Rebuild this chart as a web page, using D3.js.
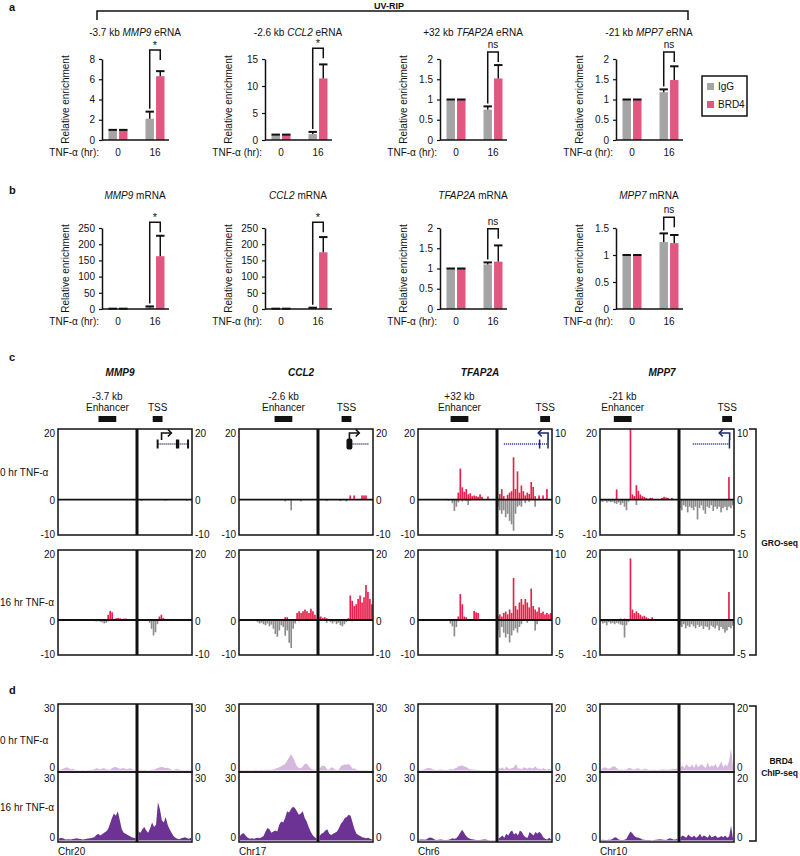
<!DOCTYPE html>
<html><head><meta charset="utf-8">
<script src="https://cdn.jsdelivr.net/npm/d3@7"></script>
<style>
body{margin:0;background:#fff}
svg{display:block}
text{font-family:"Liberation Sans",Arial,Helvetica,sans-serif;fill:#111}
</style>
</head><body>
<svg id="fig" width="800" height="856"></svg>
<script>
// ---------------- DATA ----------------
const timepoints = ['0','16'];
const series = ['IgG','BRD4'];
const genes = ['MMP9','CCL2','TFAP2A','MPP7'];

// panel a : UV-RIP eRNA
const eRNA_prefix = ['-3.7 kb ','-2.6 kb ','+32 kb ','-21 kb '];
const eRNA_IgG        = [[1,2.1],[1,1.1],[1,0.75],[1,1.18]];
const eRNA_IgG_errTop = [[1,2.8],[1,1.5],[1,0.83],[1,1.25]];
const eRNA_BRD4        = [[1,6.3],[1,11.4],[1,1.52],[1,1.48]];
const eRNA_BRD4_errTop = [[1,6.8],[1,14.0],[1,1.85],[1,1.82]];
const eRNA_ticks = [[0,2,4,6,8],[0,5,10,15],[0,0.5,1,1.5,2],[0,0.5,1,1.5,2]];
const eRNA_sig = ['*','*','ns','ns'];
const eRNA_sigLevel = [8.9,17,2.17,2.17];

// panel b : mRNA
const mRNA_IgG        = [[1,5],[1,3],[1,1.1],[1,1.24]];
const mRNA_IgG_errTop = [[1,8],[1,4],[1,1.15],[1,1.40]];
const mRNA_BRD4        = [[1,163],[1,175],[1,1.17],[1,1.22]];
const mRNA_BRD4_errTop = [[1,226],[1,222],[1,1.57],[1,1.37]];
const mRNA_ticks = [[0,50,100,150,200,250],[0,50,100,150,200,250],[0,0.5,1,1.5,2],[0,0.5,1,1.5]];
const mRNA_sig = ['*','*','ns','ns'];
const mRNA_sigLevel = [268,268,1.98,1.70];

// panel c : GRO-seq, [bin, signal]; enhancer window 40 bins, TSS window 28 bins
const groLeftDomain = [-10,20];
const groRightMin = [-10,-10,-5,-5];
const groRightMax = [20,20,10,10];
const enhLabel = ['-3.7 kb','-2.6 kb','+32 kb','-21 kb'];
const enhBoxBins = [[20.5,29.5],[18,27],[16.5,25.5],[7,16]];
const tssBoxBins = [[8,13],[12,17],[22,27],[22,27]];

const gro_MMP9_0h = {
  enhP: [], enhM: [],
  tssP: [], tssM: [[2,-0.3],[14,-0.3],[25,-0.3]]
};
const gro_MMP9_16h = {
  enhP: [[25,1.5],[26,2.6],[27,2.2],[29,0.5],[30,0.6],[31,0.5],[33,0.4],[34,0.4]],
  enhM: [[1,-0.3],[5,-0.2],[10,-0.3],[18,-0.3],[19,-0.4],[20,-0.3],[21,-0.5],[22,-0.7],[23,-1.0],[24,-0.8],[25,-0.4],[36,-0.3]],
  tssP: [[11,1.0],[12,1.5],[13,0.6],[15,0.3],[17,0.3],[19,0.3],[21,0.3],[24,0.3],[26,0.3]],
  tssM: [[0,-0.2],[6,-0.8],[7,-2.5],[8,-4.4],[9,-3.5],[10,-1.2],[13,-0.3],[20,-0.2],[27,-0.3]]
};
const gro_CCL2_0h = {
  enhP: [], enhM: [[23,-0.5],[26,-3.0],[31,-0.5]],
  tssP: [[16,1.2],[18,1.2],[22,1.2],[23,1.2],[24,1.2]],
  tssM: [[4,-0.4],[11,-0.4],[14,-0.5]]
};
const gro_CCL2_16h = {
  enhP: [[23,0.8],[24,0.8],[29,2.0],[30,2.5],[31,2.0],[32,2.5],[33,3.0],[34,2.5],[35,2.0],[36,3.2],[37,2.5],[38,1.5]],
  enhM: [[1,-0.3],[3,-0.3],[5,-0.3],[7,-0.3],[9,-0.6],[10,-1.0],[11,-0.8],[12,-1.2],[13,-1.5],[14,-1.0],[15,-1.8],[16,-1.3],[17,-2.5],[18,-4.0],[19,-4.8],[20,-3.0],[21,-1.5],[22,-2.0],[23,-4.5],[24,-3.0],[25,-6.5],[26,-8.0],[27,-2.5],[28,-1.0],[30,-0.4],[33,-0.3]],
  tssP: [[0,0.8],[1,1.0],[2,0.6],[3,0.8],[4,0.5],[15,0.5],[16,7.0],[17,5.5],[18,4.0],[19,4.5],[20,6.0],[21,7.0],[22,5.0],[23,6.5],[24,10.0],[25,8.0],[26,6.0],[27,4.5]],
  tssM: [[4,-0.8],[6,-0.6],[7,-1.0],[8,-0.5],[9,-1.2],[10,-0.8],[11,-1.5],[12,-1.8],[13,-1.2],[14,-0.6],[17,-0.4]]
};
const gro_TFAP2A_0h = {
  enhP: [[20,2.0],[21,8.8],[22,3.5],[23,2.2],[24,3.0],[25,1.5],[26,1.8],[27,1.0],[28,1.2],[29,1.0],[30,0.8],[31,1.5],[32,0.8],[35,0.9]],
  enhM: [[15,-0.3],[17,-1.0],[18,-3.2],[19,-2.0],[20,-0.8],[22,-0.5],[24,-0.4],[25,-1.5],[26,-0.3]],
  tssP: [[1,0.8],[2,1.5],[3,0.5],[5,0.7],[6,1.0],[7,1.2],[8,6.0],[9,1.5],[10,4.0],[11,1.0],[12,2.0],[13,1.2],[14,0.6],[15,1.0],[16,0.8],[17,2.5],[18,1.8],[19,0.5],[21,0.6],[23,0.6],[25,1.5]],
  tssM: [[0,-1.0],[1,-1.5],[2,-2.0],[3,-1.5],[4,-2.5],[5,-2.0],[6,-3.0],[7,-3.5],[8,-4.4],[9,-2.0],[10,-1.0],[11,-0.8],[12,-1.0],[14,-0.5],[16,-0.3],[19,-1.0]]
};
const gro_TFAP2A_16h = {
  enhP: [[20,1.0],[21,7.4],[22,4.5],[23,1.0],[24,0.8],[28,2.6],[29,2.2],[30,2.0]],
  enhM: [[3,-0.3],[8,-0.3],[13,-0.3],[16,-1.0],[17,-1.8],[18,-4.7],[19,-2.0]],
  tssP: [[0,0.6],[1,0.8],[2,0.5],[3,1.0],[4,1.2],[5,0.8],[6,1.5],[7,1.0],[8,6.0],[9,2.0],[10,1.5],[11,2.5],[12,3.0],[13,2.2],[14,3.0],[15,2.5],[16,1.8],[17,4.5],[18,2.0],[19,1.5],[20,1.2],[21,1.8],[22,1.0],[23,1.2],[24,0.8],[25,1.0],[26,0.8],[27,1.0]],
  tssM: [[0,-1.5],[1,-2.5],[2,-1.0],[3,-1.8],[4,-2.5],[5,-2.0],[6,-3.2],[7,-2.2],[8,-1.5],[9,-1.2],[10,-1.8],[11,-1.0],[12,-0.6],[15,-0.4],[19,-1.5],[20,-0.6]]
};
const gro_MPP7_0h = {
  enhP: [[8,2.9],[15,22],[16,1.5],[17,1.0],[18,4.1],[19,2.5],[20,1.5],[21,1.0],[22,0.8],[23,0.5],[25,0.5],[26,0.5],[31,0.5],[32,0.8],[33,0.6],[34,0.5],[36,0.5]],
  enhM: [[0,-0.5],[1,-0.6],[2,-0.4],[3,-0.8],[4,-0.5],[5,-0.7],[6,-0.6],[7,-1.0],[8,-1.2],[9,-0.8],[10,-1.5],[11,-1.0],[12,-2.0],[13,-3.0],[14,-0.6],[18,-1.5]],
  tssP: [[25,3.2]],
  tssM: [[0,-1.2],[1,-1.5],[2,-0.8],[3,-1.0],[4,-1.8],[5,-1.0],[6,-1.2],[7,-1.5],[8,-1.0],[9,-2.8],[10,-1.2],[11,-0.8],[12,-1.5],[13,-2.0],[14,-1.0],[15,-1.2],[16,-0.8],[17,-1.6],[18,-1.0],[19,-1.3],[20,-1.0],[21,-1.8],[22,-1.2],[23,-1.0],[24,-1.5],[25,-1.0],[26,-1.2],[27,-0.8]]
};
const gro_MPP7_16h = {
  enhP: [[10,0.4],[12,0.4],[15,17.6],[16,3.0],[17,2.0],[18,2.5],[19,2.0],[20,1.5],[21,1.0],[22,1.2],[23,0.8],[24,0.5],[26,0.8]],
  enhM: [[0,-0.5],[1,-1.0],[2,-0.8],[3,-1.5],[4,-0.6],[5,-1.0],[6,-0.8],[7,-1.2],[8,-0.8],[9,-1.0],[10,-1.3],[11,-1.5],[12,-5.0],[13,-1.5],[14,-0.5],[16,-0.3]],
  tssP: [[25,4.0]],
  tssM: [[0,-0.8],[1,-1.0],[2,-0.6],[3,-1.2],[4,-0.8],[5,-1.0],[6,-0.6],[7,-0.9],[8,-1.2],[9,-0.7],[10,-1.0],[11,-0.8],[12,-1.3],[13,-0.9],[14,-1.0],[15,-1.4],[16,-0.8],[17,-1.0],[18,-1.2],[19,-0.8],[20,-1.5],[21,-1.0],[22,-1.3],[23,-1.8],[24,-1.5],[25,-1.0],[26,-1.2],[27,-0.8]]
};
const gro0h = [gro_MMP9_0h, gro_CCL2_0h, gro_TFAP2A_0h, gro_MPP7_0h];
const gro16h = [gro_MMP9_16h, gro_CCL2_16h, gro_TFAP2A_16h, gro_MPP7_16h];

// gene models (TSS window bins)
const geneStrand = ['+','+','-','-'];
const geneLine = [[10.5,26],[17,26],[3.5,26],[7,25.8]];
const geneExons = [[[10,11],[19.8,21.5],[25.5,26.5]],[[14.5,17.5]],[[21.3,21.9],[25.6,26.2]],[[25.3,25.9]]];
const geneTss = [12.5,16,26,25.8];
const geneArrowTo = [17.5,21,21,20.5];

// panel d : BRD4 ChIP-seq coverage (enhancer 40 bins, TSS 28 bins)
const chipRightMax = [30,30,20,20];
const chip_MMP9_0h_enh = [0.2,0.3,0.8,1.2,1.5,1.0,0.6,0.8,0.3,0.2,0.1,0.1,0.2,0.1,0.1,0.2,0.2,0.3,0.6,1.0,0.8,0.5,0.9,1.0,0.6,0.3,0.4,1.0,1.5,1.6,1.2,0.8,0.9,1.2,0.7,0.6,1.0,0.8,0.3,0.2];
const chip_MMP9_0h_tss = [0.2,0.3,0.2,0.3,0.2,0.1,0.2,0.3,0.4,0.8,1.2,1.5,1.6,1.4,1.2,1.3,0.8,0.3,0.2,0.6,0.8,0.4,0.2,0.1,0.2,0.3,0.2,0.1];
const chip_MMP9_16h_enh = [0.8,1.2,1.0,0.6,0.5,0.6,0.5,0.7,0.8,1.0,0.8,0.7,0.5,0.6,0.8,0.9,1.0,1.2,1.5,2.5,3.0,2.2,2.8,3.5,4.0,5.0,7.5,10.0,12.0,11.0,13.0,9.0,5.0,3.5,3.0,2.5,2.0,1.5,1.2,1.0];
const chip_MMP9_16h_tss = [4.0,3.5,5.0,6.0,4.5,3.5,5.5,8.0,6.0,7.0,17.0,14.0,9.0,8.0,10.5,7.0,5.0,3.5,2.0,1.2,0.8,0.6,1.0,1.2,1.5,1.0,0.8,1.2];
const chip_CCL2_0h_enh = [0.2,0.3,0.2,0.2,0.3,0.2,0.2,0.3,0.3,0.2,0.2,0.3,0.2,0.3,0.3,0.4,0.3,0.5,0.8,1.2,1.5,2.0,2.5,3.0,4.5,6.0,7.4,6.0,4.0,2.0,1.2,1.0,1.8,3.0,3.2,2.0,1.0,0.5,0.3,0.2];
const chip_CCL2_0h_tss = [0.8,2.0,2.2,1.8,0.5,0.4,1.5,1.2,0.3,0.2,0.5,2.0,2.5,2.8,2.6,3.0,2.2,0.8,1.0,0.4,0.2,0.1,0.2,0.1,0.2,0.1,0.1,0.2];
const chip_CCL2_16h_enh = [2.0,3.0,3.2,2.0,1.2,0.8,1.0,0.8,1.0,1.2,1.0,1.5,2.0,4.0,5.6,5.0,3.5,4.0,4.5,4.0,7.0,8.5,8.0,10.0,13.0,12.5,14.0,15.0,14.5,13.0,11.5,12.0,13.0,10.0,8.5,6.0,4.0,2.5,1.5,1.0];
const chip_CCL2_16h_tss = [2.0,3.0,3.5,4.5,5.0,3.0,2.5,3.0,3.5,4.0,5.5,7.5,8.5,10.0,10.5,11.5,11.0,8.0,5.0,3.0,2.5,2.0,1.5,1.2,1.0,1.2,0.8,0.5];
const chip_TFAP2A_0h_enh = [0.1,0.2,0.3,0.6,1.0,1.2,1.0,0.6,0.3,0.2,0.3,0.5,0.3,0.2,0.2,0.4,0.7,0.5,0.8,1.2,1.8,2.2,2.3,2.0,1.6,1.0,0.6,0.5,0.5,0.4,0.2,0.2,0.1,0.1,0.1,0.1,0.1,0.1,0.1,0.1];
const chip_TFAP2A_0h_tss = [0.8,0.5,1.0,0.3,1.2,0.6,0.5,0.8,1.0,2.0,0.5,0.7,0.4,1.0,0.8,0.5,1.0,0.6,0.8,1.2,0.5,0.6,0.3,0.8,0.4,0.3,0.5,0.3];
const chip_TFAP2A_16h_enh = [0.3,0.5,0.4,0.3,0.6,1.2,1.3,1.0,0.4,0.2,0.3,0.5,0.3,0.2,0.2,0.3,0.6,1.0,0.8,1.0,2.0,3.5,4.8,3.5,2.0,1.2,0.8,0.6,0.4,0.2,0.2,0.2,0.3,0.5,0.4,0.2,0.1,0.1,0.1,0.1];
const chip_TFAP2A_16h_tss = [0.6,1.0,1.5,0.8,2.0,1.5,2.5,3.0,1.8,2.2,1.5,3.0,2.5,1.5,1.0,0.8,2.5,2.0,1.5,2.5,2.0,2.6,2.0,1.0,0.5,0.3,0.8,0.4];
const chip_MPP7_0h_enh = [0.3,1.2,1.5,1.0,0.8,1.2,1.8,2.0,1.2,0.4,0.4,0.3,0.3,0.5,1.0,1.2,0.6,0.4,0.8,1.0,0.5,0.4,0.7,0.8,0.3,0.2,0.3,0.4,0.3,0.2,0.4,0.5,0.6,0.3,0.3,0.5,0.6,0.8,0.7,0.9];
const chip_MPP7_0h_tss = [1.0,1.5,0.8,2.0,1.2,1.0,1.8,0.8,2.2,1.0,1.5,2.0,1.2,0.8,2.5,1.0,1.5,1.2,2.0,0.8,1.5,2.8,1.0,1.8,1.2,3.0,6.8,1.0];
const chip_MPP7_16h_enh = [0.2,0.3,0.2,0.2,0.3,0.3,0.8,1.5,1.2,0.4,0.2,0.2,0.3,0.8,2.5,4.0,3.2,2.0,1.5,1.2,1.0,0.5,0.3,0.2,0.2,0.2,0.1,0.2,0.3,0.5,0.6,0.4,0.3,0.2,0.6,1.0,0.8,0.4,0.5,0.8];
const chip_MPP7_16h_tss = [1.0,1.5,1.2,0.8,1.8,1.2,1.0,1.5,0.8,1.2,2.0,1.0,1.5,1.2,0.8,1.8,1.0,1.2,1.5,0.8,1.0,1.3,1.0,1.5,0.8,1.2,4.4,0.6];
const chip0h = [[chip_MMP9_0h_enh,chip_MMP9_0h_tss],[chip_CCL2_0h_enh,chip_CCL2_0h_tss],[chip_TFAP2A_0h_enh,chip_TFAP2A_0h_tss],[chip_MPP7_0h_enh,chip_MPP7_0h_tss]];
const chip16h = [[chip_MMP9_16h_enh,chip_MMP9_16h_tss],[chip_CCL2_16h_enh,chip_CCL2_16h_tss],[chip_TFAP2A_16h_enh,chip_TFAP2A_16h_tss],[chip_MPP7_16h_enh,chip_MPP7_16h_tss]];
const chromosomes = ['Chr20','Chr17','Chr6','Chr10'];

// ---------------- DRAWING ----------------
const svg = d3.select('#fig');
const GRAY = '#a4a4a4', PINK = '#e0587f', RED = '#e8204b', GRO_GRAY = '#8c8c8c';
const CHIP_LIGHT = '#d6b8dd', CHIP_DARK = '#6c3394', NAVY = '#1d2b6d';

function txt(x, y, s, o = {}) {
  const t = svg.append('text').attr('x', x).attr('y', y).text(s)
    .attr('font-size', o.size || 10).attr('text-anchor', o.anchor || 'start');
  if (o.bold) t.attr('font-weight', 'bold');
  if (o.italic) t.attr('font-style', 'italic');
  if (o.baseline) t.attr('dominant-baseline', o.baseline);
  return t;
}

// panel letters
txt(9, 11, 'a', {bold: true, size: 11});
txt(9, 194, 'b', {bold: true, size: 11});
txt(9, 361, 'c', {bold: true, size: 11});
txt(9, 694, 'd', {bold: true, size: 11});

// UV-RIP bracket
svg.append('path').attr('d', 'M97,20V11H688V20').attr('fill', 'none').attr('stroke', '#111').attr('stroke-width', 1.5);
txt(389, 9, 'UV-RIP', {bold: true, size: 9, anchor: 'middle'});

const chartX = [102, 265, 440, 616];

function barChart(i, top, bottom, titleY, prefix, gene, suffix, igg, iggErr, brd, brdErr, ticks, sig, sigLevel) {
  const x0 = chartX[i];
  const g = svg.append('g');
  const y = d3.scaleLinear().domain([0, ticks[ticks.length - 1]]).range([bottom, top]);
  const xg = d3.scalePoint().domain(timepoints).range([x0 + 16, x0 + 53]);
  const xs = d3.scaleBand().domain(series).range([-9.5, 9.5]).paddingInner(0.2);
  const bw = xs.bandwidth();
  const vals = [igg[i], brd[i]], errs = [iggErr[i], brdErr[i]];
  series.forEach((s, si) => {
    timepoints.forEach((t, ti) => {
      const bx = xg(t) + xs(s);
      const v = vals[si][ti], e = errs[si][ti];
      g.append('rect').attr('x', bx).attr('width', bw).attr('y', y(v)).attr('height', y(0) - y(v))
        .attr('fill', si ? PINK : GRAY);
      g.append('line').attr('x1', bx + bw / 2).attr('x2', bx + bw / 2).attr('y1', y(v)).attr('y2', y(e))
        .attr('stroke', '#111').attr('stroke-width', 1.5);
      g.append('line').attr('x1', bx).attr('x2', bx + bw).attr('y1', y(e)).attr('y2', y(e))
        .attr('stroke', '#111').attr('stroke-width', 2);
    });
  });
  const ax = g.append('g').attr('transform', `translate(${x0},0)`)
    .call(d3.axisLeft(y).tickValues(ticks).tickSize(3).tickSizeOuter(0).tickFormat(d => String(d)));
  ax.selectAll('text').attr('font-size', 10).attr('font-family', '"Liberation Sans",Arial,sans-serif').attr('fill', '#111').attr('dx', '-1');
  ax.select('.domain').attr('stroke', '#111').attr('stroke-width', 1.5);
  ax.selectAll('.tick line').attr('stroke', '#111').attr('stroke-width', 1.2);
  g.append('line').attr('x1', x0).attr('x2', x0 + 67).attr('y1', y(0)).attr('y2', y(0)).attr('stroke', '#111').attr('stroke-width', 1.5);
  // x labels
  timepoints.forEach(t => txt(xg(t), bottom + 16, t, {anchor: 'middle'}));
  txt(x0 - 3, bottom + 16, 'TNF-α (hr):', {anchor: 'end'});
  // y label
  svg.append('text').attr('transform', `translate(${x0 - 33},${(top + bottom) / 2}) rotate(-90)`)
    .attr('text-anchor', 'middle').attr('font-size', 10).text('Relative enrichment');
  // title
  const tt = txt(x0 + 33, titleY, '', {anchor: 'middle'});
  if (prefix) tt.append('tspan').text(prefix);
  tt.append('tspan').attr('font-style', 'italic').text(gene);
  tt.append('tspan').text(suffix);
  // significance bracket
  const gx = xg('16') + xs('IgG') + bw / 2, px = xg('16') + xs('BRD4') + bw / 2;
  const bt = y(sigLevel[i]);
  const leftEnd = Math.max(bt + 10, y(iggErr[i][1]) - 3);
  g.append('path').attr('d', `M${gx},${leftEnd}V${bt}H${px}V${bt + 10}`)
    .attr('fill', 'none').attr('stroke', '#111').attr('stroke-width', 1.5);
  txt((gx + px) / 2, sig[i] === '*' ? bt - 1 : bt - 4, sig[i], {anchor: 'middle', size: sig[i] === '*' ? 11 : 10});
}

for (let i = 0; i < 4; i++) {
  barChart(i, 59, 140, 36, eRNA_prefix[i], genes[i], ' eRNA', eRNA_IgG, eRNA_IgG_errTop, eRNA_BRD4, eRNA_BRD4_errTop, eRNA_ticks[i], eRNA_sig, eRNA_sigLevel);
  barChart(i, 228, 309, 199, '', genes[i], ' mRNA', mRNA_IgG, mRNA_IgG_errTop, mRNA_BRD4, mRNA_BRD4_errTop, mRNA_ticks[i], mRNA_sig, mRNA_sigLevel);
}
// legend
svg.append('rect').attr('x', 702).attr('y', 76).attr('width', 45).attr('height', 40)
  .attr('fill', 'none').attr('stroke', '#111').attr('stroke-width', 1.5);
series.forEach((s, k) => {
  svg.append('rect').attr('x', 707).attr('y', 83 + k * 18).attr('width', 7).attr('height', 7).attr('fill', k ? PINK : GRAY);
  txt(718, 90 + k * 18, s, {size: 10});
});

// ---------------- TRACKS ----------------
const colLeft = [58, 239, 418, 600];
const ENH_W = 79, TSS_W = 55;
const groRows = [[429, 535], [550, 655]];
const chipRows = [[704, 772], [772, 842]];

function bars(g, data, xs, ys, color) {
  data.forEach(([b, v]) => {
    const y1 = ys(v), y0 = ys(0);
    g.append('rect').attr('x', xs(b)).attr('width', Math.max(0.8, xs(b + 1) - xs(b) - 0.3))
      .attr('y', Math.min(y0, y1)).attr('height', Math.abs(y1 - y0)).attr('fill', color);
  });
}

function frame(g, L, D, R, top, bottom) {
  g.append('rect').attr('x', L).attr('y', top).attr('width', R - L).attr('height', bottom - top)
    .attr('fill', 'none').attr('stroke', '#111').attr('stroke-width', 1.5);
  g.append('line').attr('x1', D).attr('x2', D).attr('y1', top).attr('y2', bottom).attr('stroke', '#111').attr('stroke-width', 3);
}

for (let c = 0; c < 4; c++) {
  const L = colLeft[c], D = L + ENH_W, R = D + TSS_W;
  const xe = d3.scaleLinear().domain([0, 40]).range([L, D]);
  const xt = d3.scaleLinear().domain([0, 28]).range([D, R]);
  // headers
  txt(L + 62, 376, genes[c], {bold: true, italic: true, anchor: 'middle'});
  const ec = xe((enhBoxBins[c][0] + enhBoxBins[c][1]) / 2);
  txt(ec, 400, enhLabel[c], {anchor: 'middle'});
  txt(ec, 411, 'Enhancer', {anchor: 'middle'});
  svg.append('rect').attr('x', xe(enhBoxBins[c][0])).attr('width', xe(enhBoxBins[c][1]) - xe(enhBoxBins[c][0]))
    .attr('y', 416).attr('height', 6).attr('fill', '#111');
  const tc = xt((tssBoxBins[c][0] + tssBoxBins[c][1]) / 2);
  txt(tc, 411, 'TSS', {anchor: 'middle'});
  svg.append('rect').attr('x', xt(tssBoxBins[c][0])).attr('width', xt(tssBoxBins[c][1]) - xt(tssBoxBins[c][0]))
    .attr('y', 416).attr('height', 6).attr('fill', '#111');

  [gro0h[c], gro16h[c]].forEach((d, r) => {
    const [top, bottom] = groRows[r];
    const g = svg.append('g');
    const yl = d3.scaleLinear().domain(groLeftDomain).range([bottom, top]).clamp(true);
    const yr = d3.scaleLinear().domain([groRightMin[c], groRightMax[c]]).range([bottom, top]).clamp(true);
    bars(g, d.enhM, xe, yl, GRO_GRAY);
    bars(g, d.enhP, xe, yl, RED);
    bars(g, d.tssM, xt, yr, GRO_GRAY);
    bars(g, d.tssP, xt, yr, RED);
    g.append('line').attr('x1', L).attr('x2', R).attr('y1', yl(0)).attr('y2', yl(0)).attr('stroke', '#111').attr('stroke-width', 1.8);
    frame(g, L, D, R, top, bottom);
    txt(L - 3, top + 4, String(groLeftDomain[1]), {anchor: 'end', baseline: 'central'});
    txt(L - 3, yl(0) + 1, '0', {anchor: 'end', baseline: 'central'});
    txt(L - 3, bottom - 1, String(groLeftDomain[0]), {anchor: 'end', baseline: 'central'});
    txt(R + 3, top + 4, String(groRightMax[c]), {baseline: 'central'});
    txt(R + 3, yr(0) + 1, '0', {baseline: 'central'});
    txt(R + 3, bottom - 1, String(groRightMin[c]), {baseline: 'central'});
  });

  // gene model
  const gcol = geneStrand[c] === '+' ? '#111' : NAVY;
  const lineY = 444, arrowY = 433;
  svg.append('line').attr('x1', xt(geneLine[c][0])).attr('x2', xt(geneLine[c][1])).attr('y1', lineY).attr('y2', lineY)
    .attr('stroke', geneStrand[c] === '+' ? '#5a5a85' : '#4a58a0').attr('stroke-width', 2).attr('stroke-dasharray', '1,1');
  geneExons[c].forEach(([a, b]) => {
    const h = c === 1 ? 11 : 9;
    svg.append('rect').attr('x', xt(a)).attr('width', Math.max(1.5, xt(b) - xt(a))).attr('y', lineY - h / 2).attr('height', h)
      .attr('rx', c === 1 ? 2 : 0).attr('fill', gcol);
  });
  const ax0 = xt(geneTss[c]), ax1 = xt(geneArrowTo[c]);
  const dir = ax1 > ax0 ? 1 : -1;
  svg.append('path').attr('d', `M${ax0},${lineY - 4}V${arrowY}H${ax1}`).attr('fill', 'none').attr('stroke', gcol).attr('stroke-width', 1.6);
  svg.append('path').attr('d', `M${ax1 - dir * 3.5},${arrowY - 3.5}L${ax1},${arrowY}L${ax1 - dir * 3.5},${arrowY + 3.5}`)
    .attr('fill', 'none').attr('stroke', gcol).attr('stroke-width', 1.6);

  // ChIP-seq
  [chip0h[c], chip16h[c]].forEach((pair, r) => {
    const [top, bottom] = chipRows[r];
    const g = svg.append('g');
    const base = bottom - 1.5, peak = top + 1;
    const yl = d3.scaleLinear().domain([0, 30]).range([base, peak]);
    const yr = d3.scaleLinear().domain([0, chipRightMax[c]]).range([base, peak]);
    const col = r ? CHIP_DARK : CHIP_LIGHT;
    [[pair[0], L + 1, D - 1.5, yl], [pair[1], D + 1.5, R - 1, yr]].forEach(([arr, a, b, ys]) => {
      const xs = d3.scaleLinear().domain([0, arr.length - 1]).range([a, b]);
      g.append('path').datum(arr)
        .attr('d', d3.area().x((v, k) => xs(k)).y0(base).y1(v => ys(v)).curve(d3.curveLinear))
        .attr('fill', col);
    });
    frame(g, L, D, R, top, bottom);
    txt(L - 3, top + (r ? 6 : 4), '30', {anchor: 'end', baseline: 'central'});
    txt(L - 3, bottom - 5, '0', {anchor: 'end', baseline: 'central'});
    txt(R + 3, top + (r ? 6 : 4), String(chipRightMax[c]), {baseline: 'central'});
    txt(R + 3, bottom - 5, '0', {baseline: 'central'});
  });
  txt(L, 855, chromosomes[c], {size: 10});
}

// row labels
txt(0, 476, '0 hr TNF-α', {size: 10});
txt(0, 606, '16 hr TNF-α', {size: 10});
txt(0, 744, '0 hr TNF-α', {size: 10});
txt(0, 811, '16 hr TNF-α', {size: 10});

// right brackets
svg.append('path').attr('d', 'M749,429H756V655H749').attr('fill', 'none').attr('stroke', '#111').attr('stroke-width', 1.5);
txt(798, 546, 'GRO-seq', {bold: true, size: 8.5, anchor: 'end'});
svg.append('path').attr('d', 'M749,706H756V841H749').attr('fill', 'none').attr('stroke', '#111').attr('stroke-width', 1.5);
txt(781, 764, 'BRD4', {bold: true, size: 8.5, anchor: 'middle'});
txt(798, 776, 'ChIP-seq', {bold: true, size: 8.5, anchor: 'end'});
</script>
</body></html>
